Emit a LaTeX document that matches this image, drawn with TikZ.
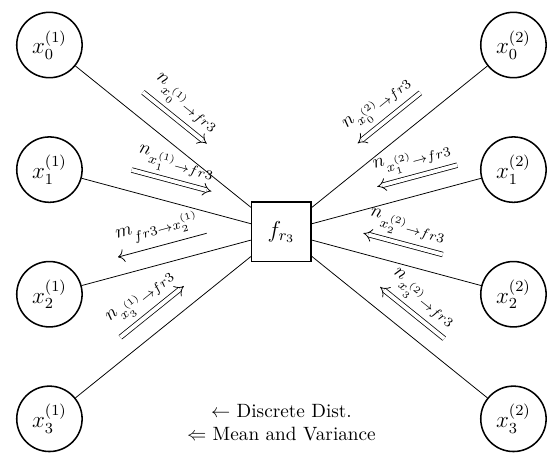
\documentclass[tikz,border=0pt]{standalone}
\usepackage{amsmath,amssymb}
\usepackage{tikz}
\usetikzlibrary{arrows.meta, positioning, calc}

\begin{document}
\begin{tikzpicture}[node distance=30pt, var/.style={circle, draw, thick, minimum size=34pt, inner sep=1pt, font=\large}, factor/.style={rectangle, draw, thick, minimum size=31pt, font=\large}, msg/.style={double, double distance=2pt, -{Implies}}, msgm/.style={-{To[scale=1.3]}}]
      \useasboundingbox (-25.7pt,23.4pt) rectangle ++(288.1pt,-239.2pt);
      \node (x01) [var] at (0,0) {$x_0^{(1)}$};
      \node (x11) [var, below=of x01] {$x_1^{(1)}$};
      \node (x21) [var, below=of x11] {$x_2^{(1)}$};
      \node (x31) [var, below=of x21] {$x_3^{(1)}$};

      \node (x02) [var, right=206.5pt of x01] {$x_0^{(2)}$};
      \node (x12) [var, below=of x02] {$x_1^{(2)}$};
      \node (x22) [var, below=of x12] {$x_2^{(2)}$};
      \node (x32) [var, below=of x22] {$x_3^{(2)}$};

      \node (f) [factor] at ($(x01)!0.5!(x32)$) {$f_{r_3}$};
      \node (legend) [align=center] at ($(x31)!0.5!(x32)+(0,-2pt)$) {$\leftarrow$ Discrete Dist.\\ $\Leftarrow$ Mean and Variance};

      \draw (x01) -- (f);
      \draw (x11) -- (f);
      \draw (x21) -- (f);
      \draw (x31) -- (f);
      \draw (x02) -- (f);
      \draw (x12) -- (f);
      \draw (x22) -- (f);
      \draw (x32) -- (f);

      % messages, left side
      \draw[msg] ($(x01)!0.344!(f)!11.4pt!90:(f)$) -- ($(x01)!0.619!(f)!11.4pt!90:(f)$) node[midway, above, sloped] {$n_{x_0^{(1)}\to fr3}$};
      \draw[msg] ($(x11)!0.331!(f)!10.9pt!90:(f)$) -- ($(x11)!0.675!(f)!10.9pt!90:(f)$) node[midway, above, sloped] {$n_{x_1^{(1)}\to fr3}$};
      \draw[msgm] ($(x21)!0.698!(f)!9.4pt!90:(f)$) -- ($(x21)!0.316!(f)!9.4pt!90:(f)$) node[midway, above, sloped] {$m_{fr3\to x_2^{(1)}}$};
      \draw[msg] ($(x31)!0.357!(f)!9.9pt!90:(f)$) -- ($(x31)!0.631!(f)!9.9pt!90:(f)$) node[midway, above, sloped] {$n_{x_3^{(1)}\to fr3}$};

      % messages, right side
      \draw[msg] ($(x02)!0.344!(f)!11pt!-90:(f)$) -- ($(x02)!0.614!(f)!11pt!-90:(f)$) node[midway, above, sloped] {$n_{x_0^{(2)}\to fr3}$};
      \draw[msg] ($(x12)!0.221!(f)!9.8pt!-90:(f)$) -- ($(x12)!0.566!(f)!9.8pt!-90:(f)$) node[midway, above, sloped] {$n_{x_1^{(2)}\to fr3}$};
      \draw[msg] ($(x22)!0.327!(f)!10.4pt!-90:(f)$) -- ($(x22)!0.669!(f)!10.4pt!-90:(f)$) node[midway, above, sloped] {$n_{x_2^{(2)}\to fr3}$};
      \draw[msg] ($(x32)!0.35!(f)!9.9pt!-90:(f)$) -- ($(x32)!0.626!(f)!9.9pt!-90:(f)$) node[midway, above, sloped] {$n_{x_3^{(2)}\to fr3}$};
    \end{tikzpicture}
\end{document}
